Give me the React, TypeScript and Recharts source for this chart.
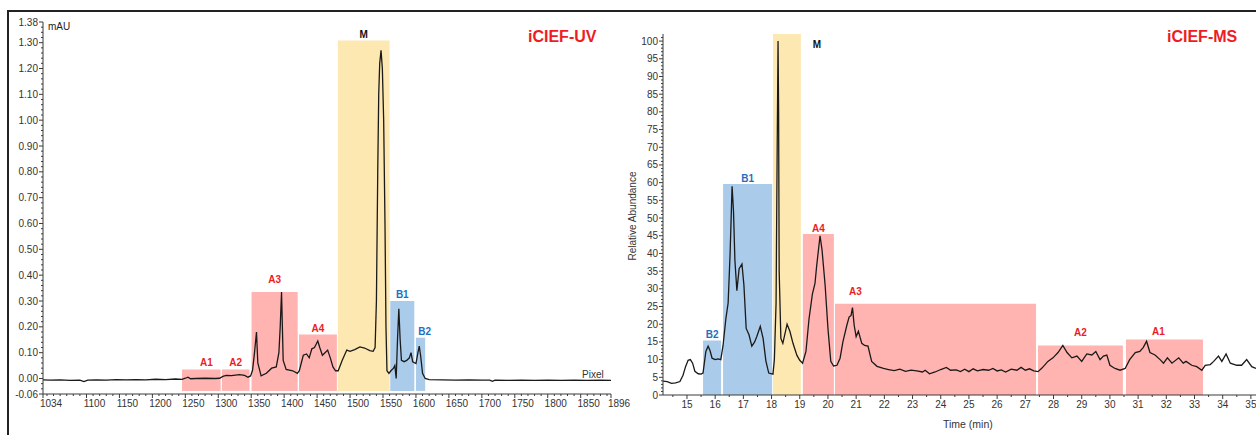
import { LineChart, Line, XAxis, YAxis, ReferenceArea } from 'recharts';

// iCIEF-UV trace (pixel vs mAU)
const uvPixel = [
  1034, 1045, 1060, 1075, 1090, 1096, 1102, 1115, 1130, 1145, 1160, 1175, 1190, 1205, 1220, 1235,
  1245, 1250, 1254, 1258, 1266, 1280, 1295, 1302, 1307, 1312, 1320, 1332, 1340, 1345, 1349,
  1352, 1355, 1358, 1360, 1365, 1373, 1381, 1388, 1392, 1394, 1396, 1398.5, 1403, 1413, 1420,
  1423, 1429, 1434, 1438, 1442, 1446, 1451, 1454, 1458, 1462, 1466, 1470, 1474, 1478, 1482,
  1488, 1495, 1500, 1507, 1515, 1522, 1530, 1535, 1538, 1540, 1542, 1543.5, 1545, 1547, 1549,
  1551, 1553, 1554.5, 1556, 1559, 1562, 1566, 1568, 1570, 1572, 1574, 1576, 1578, 1582, 1586,
  1590, 1592.5, 1595, 1600, 1603, 1605, 1607, 1610, 1614, 1620, 1640, 1660, 1680, 1700, 1712,
  1716, 1720, 1740, 1760, 1780, 1800, 1820, 1840, 1860, 1880, 1896,
];
const uvAbs = [
  -0.005, -0.006, -0.005, -0.007, -0.006, -0.012, -0.006, -0.005, -0.006, -0.004, -0.005, -0.004, -0.005, -0.003, -0.004, -0.002,
  -0.003, 0.001, 0.005, -0.001, 0.0, 0.001, 0.0, 0.001, 0.008, 0.012, 0.011, 0.015, 0.012, 0.005, 0.01,
  0.032, 0.1, 0.18, 0.06, 0.01, 0.02, 0.04, 0.045, 0.1, 0.2, 0.335, 0.07, 0.035, 0.03, 0.02,
  0.03, 0.09, 0.095, 0.08, 0.115, 0.12, 0.145, 0.12, 0.09, 0.1, 0.11, 0.08, 0.045, 0.03, 0.03,
  0.07, 0.11, 0.105, 0.112, 0.122, 0.118, 0.108, 0.105, 0.12, 0.3, 0.8, 1.1, 1.22, 1.27, 1.2,
  1.0, 0.6, 0.2, 0.03, 0.02, 0.03, 0.04, 0.05, 0.0, 0.15, 0.27, 0.15, 0.07, 0.065, 0.07,
  0.08, 0.1, 0.065, 0.058, 0.1, 0.125, 0.09, 0.02, 0.0, -0.004, -0.005, -0.006, -0.005, -0.006, -0.006,
  -0.011, -0.006, -0.007, -0.006, -0.007, -0.006, -0.007, -0.006, -0.007, -0.006, -0.007,
];

// iCIEF-MS trace (time vs relative abundance)
const msTime = [
  14.15, 14.3, 14.45, 14.6, 14.75, 14.86, 14.95, 15.04, 15.12, 15.2, 15.28, 15.4, 15.5, 15.57, 15.67,
  15.75, 15.82, 15.89, 16.0, 16.1, 16.2, 16.28, 16.38, 16.46, 16.53, 16.6, 16.65, 16.7, 16.77, 16.85,
  16.95, 17.02, 17.1, 17.2, 17.3, 17.4, 17.48, 17.6, 17.7, 17.8, 17.9, 18.05, 18.1, 18.16, 18.2,
  18.23, 18.25, 18.27, 18.33, 18.4, 18.55, 18.65, 18.76, 18.9, 19.0, 19.1, 19.22, 19.33, 19.45, 19.54,
  19.6, 19.72, 19.79, 19.9, 20.0, 20.1, 20.2, 20.32, 20.43, 20.53, 20.67, 20.75, 20.82, 20.87, 20.93,
  21.0, 21.08, 21.2, 21.3, 21.42, 21.55, 21.74, 21.97, 22.15, 22.35, 22.55, 22.75, 22.95, 23.15, 23.35,
  23.45, 23.6, 23.8, 24.0, 24.2, 24.35, 24.55, 24.7, 24.85, 25.0, 25.15, 25.3, 25.5, 25.7, 25.85,
  26.0, 26.15, 26.3, 26.5, 26.7, 26.85, 27.0, 27.15, 27.3, 27.45, 27.59, 27.8, 27.98, 28.16, 28.33,
  28.48, 28.65, 28.83, 29.0, 29.18, 29.36, 29.5, 29.65, 29.77, 29.89, 30.0, 30.18, 30.36, 30.54, 30.7,
  30.9, 31.06, 31.18, 31.3, 31.42, 31.6, 31.78, 31.9, 32.04, 32.2, 32.44, 32.6, 32.7, 32.9, 33.08,
  33.26, 33.38, 33.56, 33.68, 33.85, 33.97, 34.12, 34.27, 34.5, 34.67, 34.85, 35.03, 35.18,
];
const msAbundance = [
  3.9, 3.8, 3.3, 3.4, 3.8, 5.6, 8, 9.8, 10, 9, 6.7, 6, 5.9, 6.2, 12.3,
  13.8, 12.5, 10.4, 10, 10.2, 10, 14, 21.6, 26, 40, 59, 52, 38, 29.5, 35.7,
  37, 31, 18.8, 17, 13.8, 15, 16.6, 19.4, 16, 9.6, 6.2, 5.9, 10, 26, 70,
  100, 80, 35, 16, 14.6, 20, 18, 14.6, 11.2, 9.8, 9, 12.3, 21.6, 28.6, 31.5,
  36.5, 45, 41, 31, 18.8, 9.5, 8.2, 8.4, 10.4, 15, 19.7, 22, 22.5, 24.7, 19.7,
  16.5, 18, 14.6, 14, 13.8, 9.5, 8.1, 7.5, 7.2, 6.9, 7.3, 6.7, 7.0, 6.8, 6.5,
  7.0, 6.0, 6.5, 7.2, 7.8, 7.0, 7.1, 6.6, 7.3, 6.6, 7.4, 6.8, 7.2, 7.0, 7.5,
  6.8, 7.1, 6.5, 7.3, 7.0, 7.8, 7.0, 7.4, 6.8, 6.6, 7.6, 9.5, 10.5, 12, 14,
  12, 10.5, 11, 9.5, 11.6, 11.3, 12.3, 10, 11, 11.3, 8.4, 7.5, 7, 7.5, 10,
  12, 12.3, 13.4, 15.2, 12, 11.3, 10, 9, 10.5, 9, 10.5, 9, 9.5, 8.4, 8,
  7, 8.4, 8.6, 9.5, 11, 9.5, 11.6, 9, 8.4, 8.4, 10, 8, 7.5,
];

// fraction bands
const uvBandNames = ['A1', 'A2', 'A3', 'A4', 'M', 'B1', 'B2'];
const uvBandStart = [1245, 1305.5, 1350.5, 1422.5, 1481.5, 1561, 1600];
const uvBandEnd = [1303.5, 1347.5, 1420.5, 1480, 1560, 1597.5, 1614];
const uvBandTop = [0.035, 0.035, 0.335, 0.17, 1.308, 0.3, 0.158];
const uvBandBottom = -0.048;

const msBandNames = ['B2', 'B1', 'M', 'A4', 'A3', 'A2', 'A1'];
const msBandStart = [15.57, 16.28, 18.05, 19.11, 20.25, 27.45, 30.57];
const msBandEnd = [16.21, 18.02, 19.04, 20.21, 27.38, 30.46, 33.3];
const msBandTop = [15.4, 59.6, 102, 45.5, 25.8, 14, 15.7];

// major tick values (labels)
const uvXMajor = [1034, 1100, 1150, 1200, 1250, 1300, 1350, 1400, 1450, 1500, 1550, 1600, 1650, 1700, 1750, 1800, 1850, 1896];
const uvYMajor = [-0.06, 0, 0.1, 0.2, 0.3, 0.4, 0.5, 0.6, 0.7, 0.8, 0.9, 1.0, 1.1, 1.2, 1.3, 1.38];
const msXMajor = [15, 16, 17, 18, 19, 20, 21, 22, 23, 24, 25, 26, 27, 28, 29, 30, 31, 32, 33, 34, 35];
const msYMajor = [0, 5, 10, 15, 20, 25, 30, 35, 40, 45, 50, 55, 60, 65, 70, 75, 80, 85, 90, 95, 100];

const FONT = '"Liberation Sans", Arial, Helvetica, sans-serif';
const AXIS = '#3a3a3a';
const PINK = '#ffb4b1';
const BLUE = '#abcbea';
const YELLOW = '#fee8b2';
const RED = '#ee1c24';
const DBLUE = '#1f6fc0';

const uvData = uvPixel.map((x, i) => ({ x, y: uvAbs[i] }));
const msData = msTime.map((x, i) => ({ x, y: msAbundance[i] }));

const uvYTicks = Array.from({ length: 73 }, (_, i) => ((i - 3) * 2) / 100);
const uvXTicks = [1034, ...Array.from({ length: 86 }, (_, i) => 1040 + i * 10), 1896];
const msYTicks = Array.from({ length: 102 }, (_, i) => i);
const msXTicks = Array.from({ length: 43 }, (_, i) => 14.5 + i / 2);

const isIn = (list: number[], v: number) => list.some((m) => Math.abs(m - v) < 1e-9);

function makeYTick(majors: number[], fmt: (v: number) => string) {
  return (props: any) => {
    const { x, y, payload } = props;
    const major = isIn(majors, payload.value);
    return (
      <g>
        <line x1={x} x2={x - (major ? 4 : 2)} y1={y} y2={y} stroke={AXIS} strokeWidth={1} />
        {major && (
          <text x={x - 5} y={y} dy="0.35em" textAnchor="end" fontSize={10} fill="#333" fontFamily={FONT}>
            {fmt(payload.value)}
          </text>
        )}
      </g>
    );
  };
}

function makeXTick(majors: number[], dx: number) {
  return (props: any) => {
    const { x, y, payload } = props;
    const major = isIn(majors, payload.value);
    return (
      <g>
        <line x1={x} x2={x} y1={y} y2={y + (major ? 4 : 2)} stroke={AXIS} strokeWidth={1} />
        {major && (
          <text x={x + dx} y={y + 9} dy="0.35em" textAnchor="middle" fontSize={10} fill="#333" fontFamily={FONT}>
            {payload.value}
          </text>
        )}
      </g>
    );
  };
}

const bandFill = (name: string) => (name[0] === 'A' ? PINK : name[0] === 'B' ? BLUE : YELLOW);
const labelFill = (name: string) => (name[0] === 'A' ? RED : name[0] === 'B' ? DBLUE : '#111');

// label placement tweaks: [dx, lift above the band top]
const uvLabelShift: Record<string, [number, number]> = { A1: [5, 3], A3: [0, 9], B2: [4, 3] };
const msLabelShift: Record<string, [number, number]> = { A3: [-80, 9], A2: [0, 9], A1: [-6, 4] };

function bandLabel(name: string, shift: [number, number], beside = false) {
  return (props: any) => {
    const vb = props.viewBox || {};
    const x = vb.x ?? 0;
    const y = vb.y ?? 0;
    const w = vb.width ?? 0;
    const tx = beside ? x + w + 16 : x + w / 2 + shift[0];
    const ty = beside ? y + 14 : y - shift[1];
    return (
      <text x={tx} y={ty} textAnchor="middle" fontSize={10} fontWeight="bold" fill={labelFill(name)} fontFamily={FONT}>
        {name}
      </text>
    );
  };
}

const textStyle = (left: number, top: number, size: number, extra: any = {}) => ({
  position: 'absolute' as const,
  left,
  top,
  fontSize: size,
  lineHeight: `${size + 2}px`,
  fontFamily: FONT,
  whiteSpace: 'nowrap' as const,
  ...extra,
});

export default function App() {
  return (
    <div style={{ position: 'fixed', left: 0, top: 0, width: 1256, height: 435, overflow: 'hidden', background: '#fff' }}>
      <div style={{ position: 'absolute', left: 7, top: 10, right: 0, bottom: 0, borderTop: '2px solid #222', borderLeft: '2px solid #222' }} />

      <div style={{ position: 'absolute', left: 0, top: 0 }}>
        <LineChart width={630} height={435} data={uvData} margin={{ top: 22, right: 19, bottom: 11, left: 0 }}>
          <XAxis
            type="number"
            dataKey="x"
            domain={[1034, 1896]}
            ticks={uvXTicks}
            interval={0}
            allowDataOverflow
            height={30}
            stroke={AXIS}
            tickSize={0}
            tickMargin={0}
            tickLine={false}
            tick={makeXTick(uvXMajor, 8)}
          />
          <YAxis
            type="number"
            domain={[-0.06, 1.38]}
            ticks={uvYTicks}
            interval={0}
            allowDataOverflow
            width={43}
            stroke={AXIS}
            tickSize={0}
            tickMargin={0}
            tickLine={false}
            tick={makeYTick(uvYMajor, (v) => v.toFixed(2))}
          />
          {uvBandNames.map((name, i) => (
            <ReferenceArea
              key={name}
              x1={uvBandStart[i]}
              x2={uvBandEnd[i]}
              y1={uvBandBottom}
              y2={uvBandTop[i]}
              fill={bandFill(name)}
              fillOpacity={1}
              stroke="none"
              label={bandLabel(name, uvLabelShift[name] || [0, 3])}
            />
          ))}
          <Line type="linear" dataKey="y" stroke="#1a1a1a" strokeWidth={1.3} dot={false} isAnimationActive={false} />
        </LineChart>
      </div>

      <div style={{ position: 'absolute', left: 620, top: 0 }}>
        <LineChart width={660} height={435} data={msData} margin={{ top: 34, right: 15, bottom: 10, left: 0 }}>
          <XAxis
            type="number"
            dataKey="x"
            domain={[14.15, 35.5]}
            ticks={msXTicks}
            interval={0}
            allowDataOverflow
            height={30}
            stroke={AXIS}
            tickSize={0}
            tickMargin={0}
            tickLine={false}
            tick={makeXTick(msXMajor, 0)}
          />
          <YAxis
            type="number"
            domain={[0, 102]}
            ticks={msYTicks}
            interval={0}
            allowDataOverflow
            width={43}
            stroke={AXIS}
            tickSize={0}
            tickMargin={0}
            tickLine={false}
            tick={makeYTick(msYMajor, (v) => String(v))}
          />
          {msBandNames.map((name, i) => (
            <ReferenceArea
              key={name}
              x1={msBandStart[i]}
              x2={msBandEnd[i]}
              y1={0}
              y2={msBandTop[i]}
              fill={bandFill(name)}
              fillOpacity={1}
              stroke="none"
              label={bandLabel(name, msLabelShift[name] || [0, 2], name === 'M')}
            />
          ))}
          <Line type="linear" dataKey="y" stroke="#1a1a1a" strokeWidth={1.3} dot={false} isAnimationActive={false} />
        </LineChart>
      </div>

      <div style={textStyle(528, 28, 16, { color: RED, fontWeight: 'bold' })}>iCIEF-UV</div>
      <div style={textStyle(1167, 28, 16, { color: RED, fontWeight: 'bold' })}>iCIEF-MS</div>
      <div style={textStyle(48, 21, 10, { color: '#222' })}>mAU</div>
      <div style={textStyle(582, 369, 10, { color: '#333' })}>Pixel</div>
      <div style={textStyle(943, 418, 10.5, { color: '#333' })}>Time (min)</div>
      <div
        style={textStyle(633, 216, 10, {
          color: '#333',
          transform: 'translate(-50%, -50%) rotate(-90deg)',
        })}
      >
        Relative Abundance
      </div>
    </div>
  );
}
